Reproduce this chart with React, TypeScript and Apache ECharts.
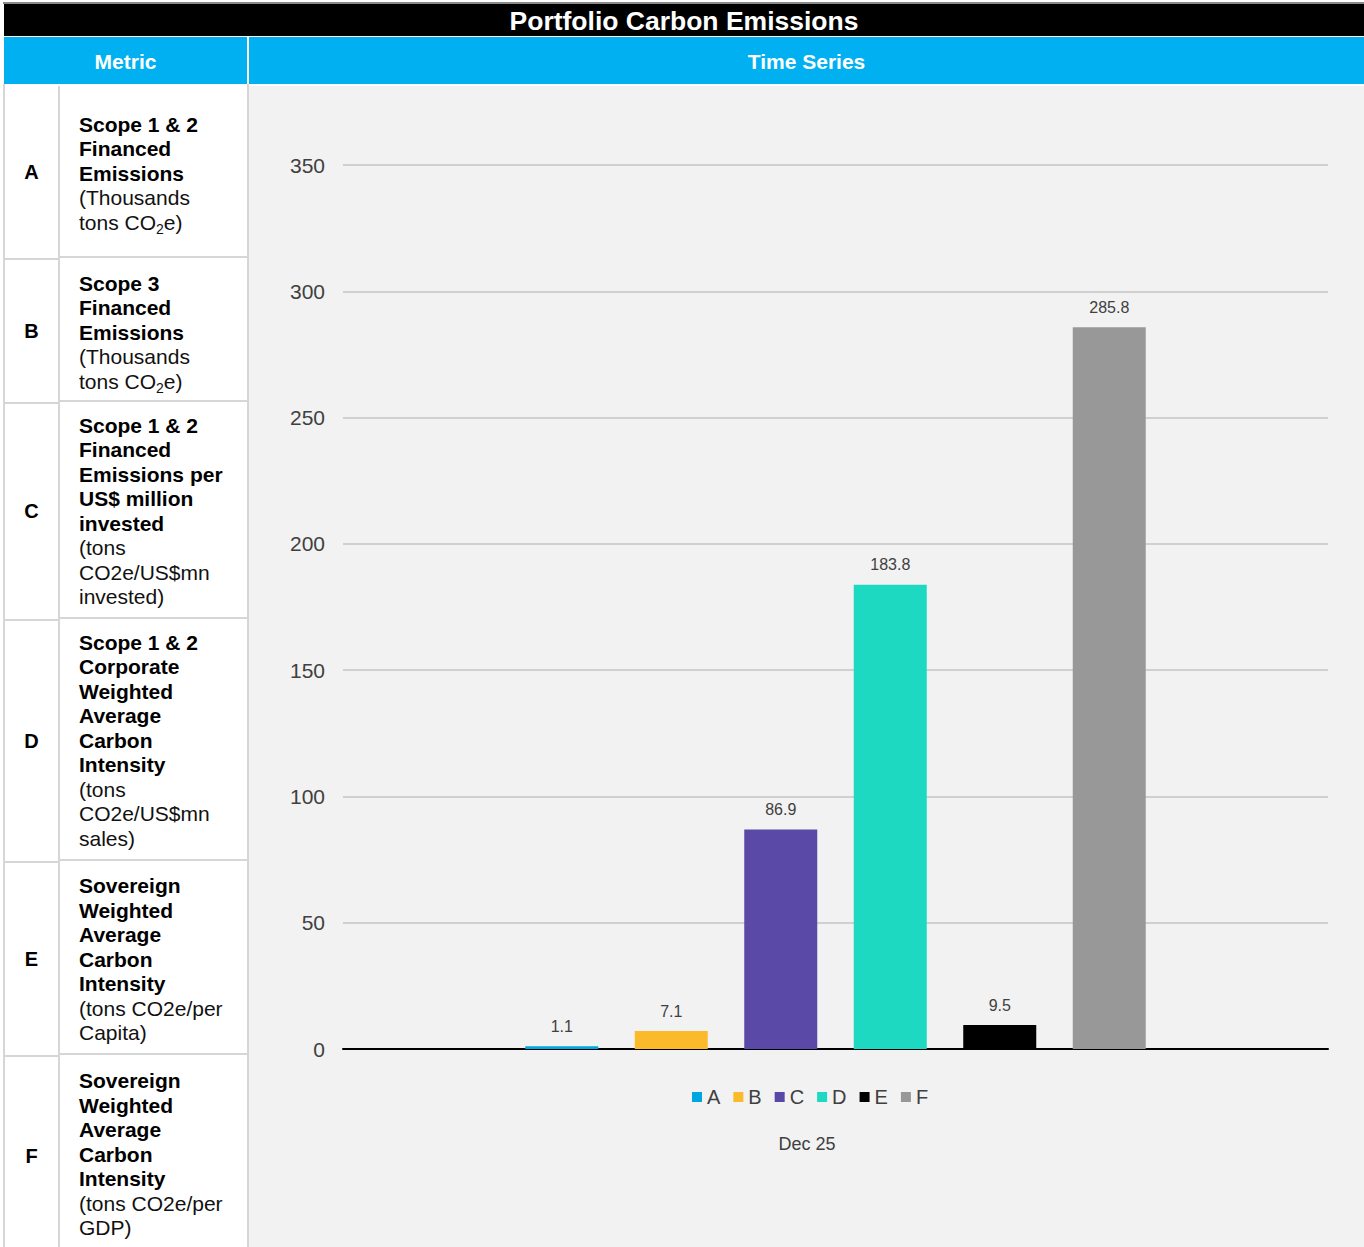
import React, { useEffect, useRef } from "react";
import * as echarts from "echarts";

const categories = ["Dec 25"];
const seriesNames = ["A", "B", "C", "D", "E", "F"];
const seriesValues = [1.1, 7.1, 86.9, 183.8, 9.5, 285.8];
const seriesColors = ["#00A6E2", "#FBBA2A", "#5A49A6", "#1ED9C2", "#000000", "#989898"];
const yTicks = { min: 0, max: 350, interval: 50 };

const Sub2 = () => (
  <span style={{ fontSize: 14, position: "relative", top: 4, lineHeight: 0 }}>2</span>
);

type Row = { letter: string; bold: string[]; normal: React.ReactNode[]; top: number; height: number; shift?: number };
const rows: Row[] = [
  { letter: "A", bold: ["Scope 1 & 2", "Financed", "Emissions"], normal: ["(Thousands", <span key="a">tons CO<Sub2 />e)</span>], top: 86, height: 174, shift: 3 },
  { letter: "B", bold: ["Scope 3", "Financed", "Emissions"], normal: ["(Thousands", <span key="b">tons CO<Sub2 />e)</span>], top: 260, height: 144, shift: 3 },
  { letter: "C", bold: ["Scope 1 & 2", "Financed", "Emissions per", "US$ million", "invested"], normal: ["(tons", "CO2e/US$mn", "invested)"], top: 404, height: 217, shift: 1 },
  { letter: "D", bold: ["Scope 1 & 2", "Corporate", "Weighted", "Average", "Carbon", "Intensity"], normal: ["(tons", "CO2e/US$mn", "sales)"], top: 621, height: 242, shift: 1 },
  { letter: "E", bold: ["Sovereign", "Weighted", "Average", "Carbon", "Intensity"], normal: ["(tons CO2e/per", "Capita)"], top: 863, height: 194, shift: 2 },
  { letter: "F", bold: ["Sovereign", "Weighted", "Average", "Carbon", "Intensity"], normal: ["(tons CO2e/per", "GDP)"], top: 1057, height: 200 },
];

const FONT = "'Liberation Sans', Arial, Helvetica, sans-serif";

function Chart() {
  const ref = useRef<HTMLDivElement>(null);
  useEffect(() => {
    if (!ref.current) return;
    const chart = echarts.init(ref.current, undefined, { renderer: "svg" });
    chart.setOption({
      animation: false,
      backgroundColor: "transparent",
      textStyle: { fontFamily: FONT },
      grid: { left: 94, right: 36, top: 79, bottom: 198, containLabel: false },
      legend: {
        data: seriesNames,
        left: 443,
        top: 1001,
        padding: 0,
        icon: "rect",
        itemWidth: 10,
        itemHeight: 10,
        itemGap: 13,
        textStyle: { fontSize: 20, color: "#404040", fontFamily: FONT },
      },
      xAxis: {
        type: "category",
        data: categories,
        axisLine: { lineStyle: { color: "#000000", width: 2 } },
        axisTick: { show: false },
        axisLabel: {
          margin: 86,
          fontSize: 18,
          color: "#404040",
          fontFamily: FONT,
          padding: [0, 57, 0, 0],
        },
      },
      yAxis: {
        type: "value",
        min: yTicks.min,
        max: yTicks.max,
        interval: yTicks.interval,
        axisLine: { show: false },
        axisTick: { show: false },
        axisLabel: { margin: 18, fontSize: 21, color: "#404040", fontFamily: FONT },
        splitLine: { lineStyle: { color: "#D0D0D0", width: 2 } },
      },
      series: seriesNames.map((name, i) => ({
        name,
        type: "bar",
        data: [seriesValues[i]],
        barWidth: 73,
        barGap: "50%",
        itemStyle: { color: seriesColors[i] },
        label: {
          show: true,
          position: "top",
          distance: 12,
          fontSize: 16,
          color: "#404040",
          fontFamily: FONT,
        },
      })),
    });
    return () => chart.dispose();
  }, []);
  return <div ref={ref} style={{ position: "absolute", left: 249, top: 86, width: 1115, height: 1161 }} />;
}

export default function App() {
  useEffect(() => {
    document.body.style.margin = "0";
  }, []);
  return (
    <div style={{ position: "relative", width: 1364, height: 1247, overflow: "hidden", background: "#ffffff", fontFamily: FONT }}>
      {/* title bar */}
      <div style={{ position: "absolute", left: 3, top: 2, width: 1361, height: 2, background: "#8a8a8a" }} />
      <div style={{ position: "absolute", left: 4, top: 4, width: 1360, height: 32, paddingTop: 2, boxSizing: "border-box", background: "#000", color: "#fff", fontWeight: "bold", fontSize: 26.5, display: "flex", alignItems: "center", justifyContent: "center" }}>
        Portfolio Carbon Emissions
      </div>
      {/* header */}
      <div style={{ position: "absolute", left: 4, top: 37, width: 243, height: 47, paddingTop: 3, boxSizing: "border-box", background: "#00B0F0", color: "#fff", fontWeight: "bold", fontSize: 21, display: "flex", alignItems: "center", justifyContent: "center" }}>
        Metric
      </div>
      <div style={{ position: "absolute", left: 249, top: 37, width: 1115, height: 47, paddingTop: 3, boxSizing: "border-box", background: "#00B0F0", color: "#fff", fontWeight: "bold", fontSize: 21, display: "flex", alignItems: "center", justifyContent: "center" }}>
        Time Series
      </div>
      {/* left border */}
      <div style={{ position: "absolute", left: 3, top: 84, width: 2, height: 1163, background: "#d6d6d6" }} />
      {rows.map((r) => (
        <React.Fragment key={r.letter}>
          <div style={{ position: "absolute", left: 5, top: r.top, width: 53, height: r.height - 2, background: "#fff", display: "flex", alignItems: "center", justifyContent: "center", fontWeight: "bold", fontSize: 20, color: "#000", borderBottom: "2px solid #d6d6d6", borderRight: "2px solid #d6d6d6" }}>
            {r.letter}
          </div>
          <div style={{ position: "absolute", left: 60, top: r.top, width: 187, height: r.height - 2, background: "#fff", display: "flex", flexDirection: "column", justifyContent: "center", paddingLeft: 19, paddingTop: (r.shift || 0) * 2, boxSizing: "border-box", fontSize: 21, lineHeight: "24.5px", color: "#000", borderBottom: "2px solid #d6d6d6" }}>
            {r.bold.map((t, i) => (
              <div key={"b" + i} style={{ fontWeight: "bold", whiteSpace: "nowrap", height: 24.5 }}>{t}</div>
            ))}
            {r.normal.map((t, i) => (
              <div key={"n" + i} style={{ whiteSpace: "nowrap", color: "#111", height: 24.5 }}>{t}</div>
            ))}
          </div>
        </React.Fragment>
      ))}
      {/* chart pane */}
      <div style={{ position: "absolute", left: 247, top: 84, width: 2, height: 1163, background: "#d6d6d6" }} />
      <div style={{ position: "absolute", left: 249, top: 86, width: 1115, height: 1161, background: "#F2F2F2" }} />
      <Chart />
    </div>
  );
}
